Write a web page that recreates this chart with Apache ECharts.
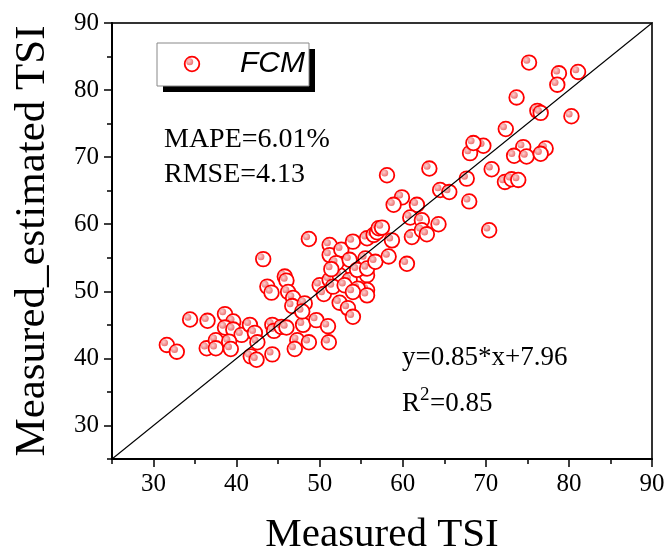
<!DOCTYPE html>
<html>
<head>
<meta charset="utf-8">
<script src="https://cdn.jsdelivr.net/npm/echarts@6/dist/echarts.min.js"></script>
<style>
html,body{margin:0;padding:0;background:#fff;}
#chart{width:668px;height:555px;}
</style>
</head>
<body>
<div id="chart"></div>
<script>
// Measured TSI (x) and estimated TSI (y)
var measuredTSI = [
  31.6, 32.8, 34.4, 36.5, 38.6, 39.6, 38.6, 39.6, 40.6, 41.6,
  42.2, 42.5, 41.7, 42.4, 44.3, 36.4, 37.5, 37.5, 39.1, 39.3,
  44.3, 44.5, 45.4, 46.0, 48.0, 49.6, 51.0, 47.3, 48.7, 51.1,
  47.0, 43.2, 48.7, 45.8, 46.0, 43.7, 44.2, 46.2, 46.8, 46.7,
  48.2, 47.9, 50.0, 50.5, 51.2, 52.4, 53.6, 55.7, 55.7, 54.6,
  52.4, 53.4, 54.0, 51.2, 51.2, 52.6, 54.0, 55.7, 56.5, 56.9,
  52.0, 53.6, 55.5, 51.4, 54.5, 55.7, 56.7, 51.6, 53.0, 54.0,
  55.7, 57.1, 58.1, 63.2, 68.1, 69.7, 68.5, 70.7, 67.7, 64.5,
  65.6, 59.9, 58.9, 61.7, 68.0, 60.9, 62.3, 64.3, 57.5, 58.7,
  61.1, 62.3, 62.9, 70.4, 58.3, 60.5, 75.2, 78.8, 81.1, 78.6,
  73.7, 76.2, 76.6, 80.3, 72.4, 74.5, 73.4, 74.9, 77.2, 76.6,
  72.3, 73.1, 73.9
];
var estimatedTSI = [
  42.0, 41.0, 45.8, 45.6, 46.6, 45.5, 44.6, 44.3, 43.5, 45.0,
  43.8, 42.4, 40.3, 39.8, 40.6, 41.5, 42.7, 41.5, 42.5, 41.4,
  45.0, 44.1, 44.7, 44.6, 45.0, 45.7, 44.8, 42.7, 42.4, 42.4,
  41.4, 54.8, 57.8, 52.2, 51.6, 50.7, 49.8, 49.9, 49.0, 47.8,
  48.2, 47.0, 50.9, 49.6, 51.7, 52.4, 51.7, 52.4, 50.2, 50.4,
  48.3, 47.5, 46.2, 56.9, 55.4, 56.2, 57.4, 57.9, 58.4, 58.8,
  54.2, 54.7, 54.9, 53.3, 53.2, 53.4, 54.4, 50.7, 50.9, 49.9,
  49.4, 59.4, 67.3, 68.3, 70.6, 71.7, 72.1, 68.2, 66.8, 65.1,
  64.8, 64.0, 62.9, 62.9, 63.4, 61.0, 60.6, 60.0, 59.5, 57.6,
  58.1, 59.1, 58.5, 59.1, 55.2, 54.1, 84.1, 82.5, 82.7, 80.8,
  78.9, 76.9, 76.6, 76.1, 74.2, 71.5, 70.2, 70.1, 71.3, 70.5,
  66.3, 66.7, 66.6
];
var axisRange = [25, 90];
var majorTicks = [30, 40, 50, 60, 70, 80, 90];
var seriesName = 'FCM';
var statLines = ['MAPE=6.01%', 'RMSE=4.13'];
var fitText = 'y=0.85*x+7.96';
var r2Value = '0.85';

var points = measuredTSI.map(function (x, i) { return [x, estimatedTSI[i]]; });
var diagonal = [[axisRange[0], axisRange[0]], [axisRange[1], axisRange[1]]];

function dotFill() {
  return new echarts.graphic.RadialGradient(0.4, 0.4, 0.75, [
    { offset: 0, color: '#fbd0d0' },
    { offset: 1, color: '#ea5f5f' }
  ]);
}
function marker(cx, cy, z) {
  var a = { type: 'circle', shape: { cx: cx, cy: cy, r: 7.3 }, style: { fill: '#fff', stroke: '#ff0000', lineWidth: 1.8 } };
  var b = { type: 'circle', shape: { cx: cx - 2.3, cy: cy - 2.3, r: 3.5 }, style: { fill: dotFill() } };
  if (z != null) { a.z = z; b.z = z + 1; }
  return [a, b];
}

var serif = '"Liberation Serif", "Times New Roman", serif';
var chart = echarts.init(document.getElementById('chart'), null, { renderer: 'canvas' });

function labelFmt(v) { return majorTicks.indexOf(v) >= 0 ? String(v) : ''; }
function valueAxis(extra) {
  return Object.assign({
    type: 'value',
    min: axisRange[0],
    max: axisRange[1],
    interval: 5,
    splitLine: { show: false },
    axisLine: { show: true, onZero: false, lineStyle: { color: '#000', width: 2 } },
    axisTick: { show: true, inside: false, length: 5, lineStyle: { color: '#000', width: 1.5 } },
    axisLabel: { show: true, color: '#000', fontFamily: serif, fontSize: 25, margin: 13, formatter: labelFmt }
  }, extra);
}
function majorTickAxis(pos) {
  return {
    type: 'value', position: pos,
    min: axisRange[0], max: axisRange[1], interval: 5,
    splitLine: { show: false },
    axisLine: { show: false },
    axisLabel: { show: false },
    axisTick: { show: true, length: 8, customValues: majorTicks, lineStyle: { color: '#000', width: 1.5 } }
  };
}

var textStyle = function (t, size, x, y) {
  return { type: 'text', x: x, y: y, z: 20, style: { text: t, font: size + 'px ' + serif, fill: '#000', verticalAlign: 'middle', align: 'left' } };
};

var option = {
  animation: false,
  backgroundColor: '#fff',
  grid: {
    left: 112, right: 16, top: 23, bottom: 96,
    show: true, borderColor: '#333', borderWidth: 2, backgroundColor: 'transparent',
    outerBoundsMode: 'none'
  },
  xAxis: [
    valueAxis({
      position: 'bottom',
      name: 'Measured TSI',
      nameLocation: 'middle',
      nameGap: 56,
      nameTextStyle: { fontFamily: serif, fontSize: 41, color: '#000' }
    }),
    majorTickAxis('bottom')
  ],
  yAxis: [
    valueAxis({
      position: 'left',
      name: 'Measured_estimated TSI',
      nameLocation: 'middle',
      nameGap: 58,
      nameTextStyle: { fontFamily: serif, fontSize: 43, color: '#000' }
    }),
    majorTickAxis('left')
  ],
  series: [
    {
      name: seriesName,
      type: 'custom',
      xAxisIndex: 0, yAxisIndex: 0,
      data: points,
      z: 2,
      renderItem: function (params, api) {
        var p = api.coord([api.value(0), api.value(1)]);
        return { type: 'group', children: marker(p[0], p[1]) };
      }
    },
    {
      type: 'line',
      xAxisIndex: 0, yAxisIndex: 0,
      data: diagonal,
      showSymbol: false,
      symbol: 'none',
      z: 5,
      lineStyle: { color: '#000', width: 1.1 }
    }
  ],
  graphic: [
    { type: 'rect', shape: { x: 163, y: 49, width: 152, height: 43 }, style: { fill: '#000' }, z: 10 },
    { type: 'rect', shape: { x: 157, y: 43, width: 152, height: 43 }, style: { fill: '#fff', stroke: '#888', lineWidth: 1 }, z: 11 },
    marker(192, 64, 20)[0],
    marker(192, 64, 20)[1],
    { type: 'text', x: 240, y: 64, z: 20, style: { text: seriesName, font: 'italic 30px "Liberation Sans", Arial, sans-serif', fill: '#000', verticalAlign: 'middle', align: 'left' } },
    textStyle(statLines[0], 28, 164, 140),
    textStyle(statLines[1], 28, 164, 175),
    textStyle(fitText, 27, 402, 358),
    textStyle('R', 27, 402, 404),
    textStyle('2', 19, 420, 395),
    textStyle('=' + r2Value, 27, 430, 404)
  ]
};
chart.setOption(option);
</script>
</body>
</html>
